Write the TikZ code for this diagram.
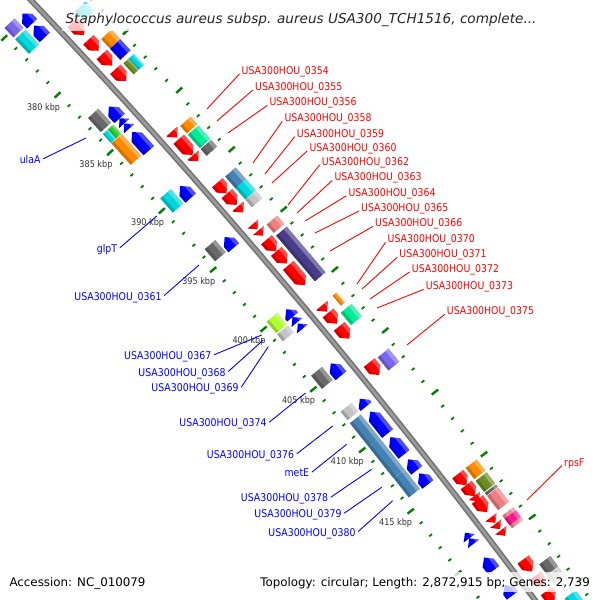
\documentclass[tikz,border=0pt]{standalone}
\usepackage{fontspec}
\setmainfont{DejaVu Sans}
\newfontfamily\condfont[FakeStretch=0.88]{DejaVu Sans}
\definecolor{gRed}{RGB}{255,0,0}
\definecolor{gBlue}{RGB}{0,0,255}
\definecolor{gOrange}{RGB}{255,140,0}
\definecolor{gSpring}{RGB}{0,235,150}
\definecolor{gDGray}{RGB}{105,105,105}
\definecolor{gLGray}{RGB}{195,195,195}
\definecolor{gSteel}{RGB}{70,130,180}
\definecolor{gCyan}{RGB}{0,215,220}
\definecolor{gOlive}{RGB}{107,142,35}
\definecolor{gCoral}{RGB}{240,128,128}
\definecolor{gPinkL}{RGB}{240,140,150}
\definecolor{gDPink}{RGB}{255,20,147}
\definecolor{gDSlate}{RGB}{72,61,139}
\definecolor{gMSlate}{RGB}{123,104,238}
\definecolor{gYGreen}{RGB}{173,255,47}
\definecolor{gLime}{RGB}{50,205,50}
\definecolor{gTick}{RGB}{0,128,0}
\definecolor{gBackA}{RGB}{115,115,115}
\definecolor{gBackB}{RGB}{155,155,155}
\definecolor{gKbp}{RGB}{51,51,51}
\def\Oxn{4701.5}
\def\Oy{4488}
\def\Rb{6522}
\def\gW{14}
% #1 x, #2 y (screen px), #3 radial offset, #4 length, #5 colour, #6 type 0 box / 1 forward / 2 reverse
\newcommand\gshape[6]{%
  \pgfmathsetmacro\gPhi{atan2(\Oy-(#2),(#1)+\Oxn)}%
  \pgfmathsetmacro\gA{\Rb+(#3)-\gW/2}%
  \pgfmathsetmacro\gB{\Rb+(#3)+\gW/2}%
  \pgfmathsetmacro\gM{\Rb+(#3)}%
  \pgfmathsetmacro\gH{(#4)/2}%
  \pgfmathsetmacro\gT{min(0.5*\gW,#4)}%
  \pgfmathsetmacro\gL{\gB-0.28*\gW}%
  \pgfmathsetmacro\gD{\gA+0.22*\gW}%
  \begin{scope}[shift={(-\Oxn,\Oy)},rotate=\gPhi]
    \ifcase#6\relax
      \def\gPath{(\gA,-\gH) rectangle (\gB,\gH)}%
    \or
      \def\gPath{(\gA,-\gH) -- (\gB,-\gH) -- (\gB,\gH-\gT) -- (\gM,\gH) -- (\gA,\gH-\gT) -- cycle}%
    \or
      \def\gPath{(\gA,\gH) -- (\gB,\gH) -- (\gB,-\gH+\gT) -- (\gM,-\gH) -- (\gA,-\gH+\gT) -- cycle}%
    \fi
    \fill[#5] \gPath;
    \begin{scope}
      \clip \gPath;
      \fill[white,opacity=.3] (\gL,-\gH-1) rectangle (\gB+1,\gH+1);
      \fill[black,opacity=.18] (\gA-1,-\gH-1) rectangle (\gD,\gH+1);
    \end{scope}
  \end{scope}}
\newcommand\gRF[3]{\gshape{#1}{#2}{15}{#3}{gRed}{1}}
\newcommand\gBR[3]{\gshape{#1}{#2}{-15}{#3}{gBlue}{2}}
\newcommand\gBO[4]{\gshape{#1}{#2}{32}{#3}{#4}{0}}
\newcommand\gBI[4]{\gshape{#1}{#2}{-31}{#3}{#4}{0}}
\newcommand\gSplit[6]{%
  \begingroup\def\gW{7}%
  \gshape{#1}{#2}{#3-3.5}{#4}{#5}{0}%
  \gshape{#1}{#2}{#3+3.5}{#4}{#6}{0}%
  \endgroup}
\begin{document}
\begin{tikzpicture}[x=1pt,y=-1pt,
  lred/.style={font=\condfont\fontsize{10.65}{12}\selectfont, text=gRed, inner sep=0pt, anchor=base west},
  lblue/.style={font=\condfont\fontsize{10.65}{12}\selectfont, text=gBlue, inner sep=0pt, anchor=base east},
  ldr/.style={draw=gRed, line width=0.9pt},
  ldb/.style={draw=gBlue, line width=0.9pt},
  kbp/.style={font=\condfont\fontsize{9.2}{10}\selectfont, text=gKbp, inner sep=0pt},
  mintick/.style={draw=gTick, line width=1.8pt},
  majtick/.style={draw=gTick, line width=2.4pt},
  fade/.style={fill=white, opacity=.75},
  infotext/.style={font=\fontsize{11.86}{14}\selectfont, text=black, inner sep=0pt},
  titletext/.style={font=\fontsize{13.6}{16}\selectfont\itshape, text=black!85, inner sep=0pt}
]
\useasboundingbox (0,0) rectangle (600,600);
\fill[white] (0,0) rectangle (600,600);
\clip (0,0) rectangle (600,600);

% backbone and ticks
\begin{scope}[shift={(-\Oxn,\Oy)}]
  \draw[gBackA, line width=5.8pt] (-47:\Rb) arc[start angle=-47, end angle=-33, radius=\Rb];
  \draw[gBackB, line width=2.6pt] (-47:\Rb) arc[start angle=-47, end angle=-33, radius=\Rb];
  \foreach \k in {370,...,430}{
    \pgfmathsetmacro\tA{-42.71+0.138*(\k-380)}
    \pgfmathtruncatemacro\tM{mod(\k,5)}
    \ifnum\tM=0
      \draw[majtick] (\tA:\Rb-49) -- (\tA:\Rb-41);
      \draw[majtick] (\tA:\Rb+44) -- (\tA:\Rb+52);
    \else
      \draw[mintick] (\tA:\Rb-45.5) -- (\tA:\Rb-42);
      \draw[mintick] (\tA:\Rb+43.5) -- (\tA:\Rb+47);
    \fi
  }
  \foreach \k in {380,385,...,415}{
    \pgfmathsetmacro\tA{-42.71+0.138*(\k-380)}
    \node[kbp] (kb\k) at (\tA:\Rb-64) {\k\ kbp};
  }
\end{scope}

% outer track 1: red forward genes
\gRF{77}{30}{17}\gRF{95}{44}{15}\gRF{107}{60}{15}\gRF{121}{75}{16}
\gRF{174}{135}{8}\gRF{187}{146}{21}\gRF{196}{158}{8}
\gRF{222}{188}{14}\gRF{231}{200}{15}\gRF{242}{208}{8}
\gRF{256}{226}{7}\gRF{262}{232}{7}
\gRF{272}{245}{15}\gRF{282}{257}{16}\gRF{297}{275}{26}
\gRF{324}{309}{8}\gRF{333}{318}{14}\gRF{345}{332}{16}
\gRF{374}{369}{16}
\gRF{463}{479}{14}\gRF{470}{491}{14}\gRF{476}{499}{7}\gRF{482}{506}{16}
\gRF{492}{521}{7}\gRF{497}{527}{7}\gRF{503}{533}{7}
\gRF{527}{566}{15}\gRF{538}{582}{13}\gRF{548}{598}{13}

% inner track 1: blue reverse genes
\gBR{29}{17}{14}\gBR{42}{29}{16}
\gBR{117}{110}{16}\gBR{124}{119}{7}\gBR{129}{124}{7}\gBR{143}{139}{25}
\gBR{189}{189}{16}\gBR{232}{240}{14}
\gBR{292}{311}{10}\gBR{298}{317}{7}\gBR{304}{323}{7}
\gBR{339}{367}{16}
\gBR{365}{401}{10}\gBR{382}{420}{28}\gBR{398}{445}{22}\gBR{416}{462}{14}\gBR{426}{477}{14}
\gBR{469}{534}{7}\gBR{474}{539}{7}\gBR{491}{562}{16}\gBR{509}{590}{13}

% outer track 2
\gBO{86}{10}{13}{gCyan}\gBO{111}{39}{13}{gOrange}\gBO{122}{48}{15}{gBlue}
\gSplit{135}{63}{32}{15}{gOlive}{gCyan}
\gBO{190}{124}{10}{gOrange}\gBO{200}{136}{18}{gSpring}\gBO{210}{147}{9}{gDGray}
\gBO{237}{177}{16}{gSteel}\gBO{247}{188}{15}{gCyan}\gBO{255}{198}{10}{gLGray}
\gBO{277}{223}{11}{gCoral}
\gBO{292.3}{241.6}{30}{gDSlate}\gBO{311.7}{264.4}{30}{gDSlate}
\begingroup\def\gW{5}\gBO{340}{298}{13}{gOrange}\endgroup
\gBO{353}{313}{16}{gSpring}\gBO{389}{359}{17}{gMSlate}
\gBO{476}{469}{14}{gOrange}\gBO{485.5}{482}{14}{gOlive}\gBO{491}{490}{3}{gDGray}
\gBO{499}{498}{18}{gCoral}
\gBO{513}{517.5}{16}{gPinkL}\gBO{513}{517.5}{8}{gDPink}
\gBO{549}{565}{13}{gDGray}\gBO{557}{575}{11}{gLGray}\gBO{578}{598}{15}{gCyan}

% inner track 2
\gBI{15}{27}{13}{gMSlate}\gBI{28}{41}{20}{gCyan}
\gBI{101}{119}{19}{gDGray}
\gSplit{114}{132}{-31}{12}{gCyan}{gLime}
\gBI{128}{148}{29}{gOrange}
\gBI{173}{200}{19}{gCyan}\gBI{216}{250}{16}{gDGray}
\gBI{278}{322}{15}{gYGreen}\gBI{286}{333}{9}{gLGray}
\gBI{323}{377}{17}{gDGray}\gBI{350}{411}{11}{gLGray}
\gBI{364.8}{430.6}{30.2}{gSteel}\gBI{386.7}{458.2}{40.2}{gSteel}\gBI{406.9}{483.6}{24.2}{gSteel}

% red labels
\foreach \i/\x/\y/\ex/\ey in {
  0354/241.5/74.4/207/109, 0355/255/90.4/217/121, 0356/269.3/105.9/228/133,
  0358/284.3/121.9/253/163, 0359/296.7/137.2/265/174, 0360/309.3/151.4/272/183,
  0362/321.7/165.4/288/205, 0363/334.3/180.9/297/213, 0364/348.3/196.4/305/221,
  0365/361/211.6/315/233, 0366/375/226.9/330/251, 0370/387.5/242.9/357/284,
  0371/399.2/257.9/362/289, 0372/411.7/272.4/370/299, 0373/425.7/289.9/377/308,
  0375/446.7/314.9/407/345}{
  \node[lred] (r\i) at (\x,\y) {USA300HOU\_\i};
  \coordinate (re\i) at (\ex,\ey);
  \draw[ldr] ([xshift=-2pt,yshift=0.5pt]r\i.base west) -- (re\i);
}
\node[lred] (rrpsF) at (564,466) {rpsF};
\coordinate (rerpsF) at (527,500);
\draw[ldr] ([xshift=-2pt,yshift=0.5pt]rrpsF.base west) -- (rerpsF);

% blue labels
\foreach \i/\t/\x/\y/\ex/\ey in {
  ulaA/ulaA/40.7/163.3/86/138,
  glpT/glpT/117.3/252.3/156.7/216,
  0361/USA300HOU\_0361/161.7/300/199/265,
  0367/USA300HOU\_0367/211.5/359.3/261.7/335,
  0368/USA300HOU\_0368/225.8/376/263.3/340,
  0369/USA300HOU\_0369/238.8/391.7/268.3/346.7,
  0374/USA300HOU\_0374/266.7/426.7/305.5/393,
  0376/USA300HOU\_0376/294.3/458.3/332.7/426,
  metE/metE/309.3/476.7/346.7/444.3,
  0378/USA300HOU\_0378/328.3/501.7/371.7/469.3,
  0379/USA300HOU\_0379/341.7/517.7/381.7/487.3,
  0380/USA300HOU\_0380/355.7/536/392.7/500.7}{
  \node[lblue] (b\i) at (\x,\y) {\t};
  \coordinate (be\i) at (\ex,\ey);
  \draw[ldb] ([xshift=2.5pt,yshift=4.5pt]b\i.base east) -- (be\i);
}

% title and info with translucent backgrounds
\fill[fade] (62,4) rectangle (541,31);
\node[titletext, anchor=base] (title) at (301,23.3) {Staphylococcus aureus subsp. aureus USA300\_TCH1516, complete...};
\fill[fade] (5,572) rectangle (148,592);
\fill[fade] (257,572) rectangle (595,592);
\node[infotext, anchor=base west] (acc) at (9.3,586.7) {Accession: NC\_010079};
\node[infotext, anchor=base east] (topo) at (590,586.7) {Topology: circular; Length: 2,872,915 bp; Genes: 2,739};
\end{tikzpicture}
\end{document}
